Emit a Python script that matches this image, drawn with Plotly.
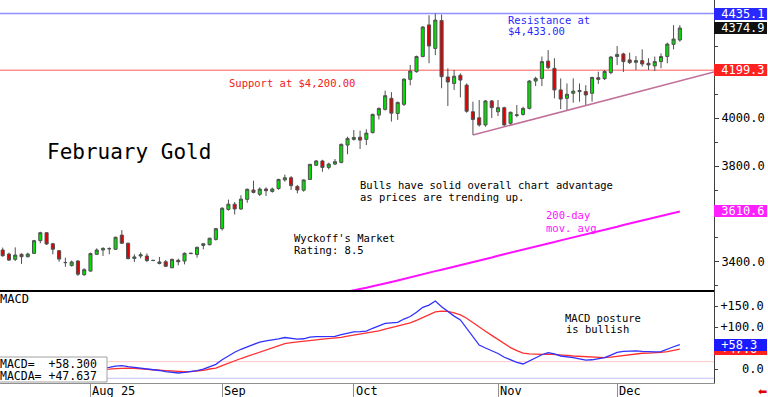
import plotly.graph_objects as go

# ---------------- data ----------------
JUL = [14, 15, 16, 17, 18, 21, 22, 23, 24, 25, 28, 29, 30, 31]
AUG = [1, 4, 5, 6, 7, 8, 11, 12, 13, 14, 15, 18, 19, 20, 21, 22, 25, 26, 27, 28, 29]
SEP = [2, 3, 4, 5, 8, 9, 10, 11, 12, 15, 16, 17, 18, 19, 22, 23, 24, 25, 26, 29, 30]
OCT = [1, 2, 3, 6, 7, 8, 9, 10, 13, 14, 15, 16, 17, 20, 21, 22, 23, 24, 27, 28, 29, 30, 31]
NOV = [3, 4, 5, 6, 7, 10, 11, 12, 13, 14, 17, 18, 19, 20, 21, 24, 25, 26, 28]
DEC = [1, 2, 3, 4, 5, 8, 9, 10, 11, 12, 15]
MONTH_DAYS = [(7, JUL), (8, AUG), (9, SEP), (10, OCT), (11, NOV), (12, DEC)]
dates = [f"2025-{m:02d}-{d:02d}" for m, days in MONTH_DAYS for d in days]

opens = [3450, 3433, 3411, 3432, 3422, 3436, 3489, 3522, 3476, 3447, 3397, 3385, 3404, 3347,
         3362, 3432, 3450, 3456, 3453, 3512, 3478, 3415, 3425, 3425, 3407, 3394, 3401, 3376, 3407, 3404,
         3437, 3431, 3469, 3472, 3494,
         3539, 3619, 3641, 3621, 3661, 3700, 3682, 3704, 3694, 3706, 3742, 3751, 3715, 3699, 3744, 3803,
         3821, 3794, 3808, 3815, 3887,
         3911, 3920, 3911, 3939, 4012, 4036, 4082, 4019, 4057, 4161, 4193, 4256, 4388, 4290, 4406, 4171,
         4144, 4178, 4137, 4026, 4001, 3971, 4071,
         4026, 4043, 3978, 4011, 4015, 4040, 4154, 4165, 4237, 4207, 4117, 4082, 4103, 4115, 4110, 4103,
         4168, 4164, 4189,
         4256, 4267, 4242, 4232, 4239, 4228, 4217, 4235, 4256, 4307, 4325]
highs = [3460, 3439, 3461, 3436, 3439, 3492, 3526, 3525, 3480, 3450, 3418, 3406, 3408, 3374,
         3439, 3457, 3462, 3461, 3506, 3533, 3481, 3432, 3440, 3436, 3409, 3421, 3408, 3414, 3414, 3440,
         3438, 3464, 3479, 3501, 3542,
         3628, 3660, 3650, 3678, 3706, 3739, 3711, 3711, 3710, 3747, 3764, 3758, 3721, 3744, 3808, 3825,
         3826, 3814, 3829, 3894, 3922,
         3950, 3947, 3953, 4018, 4044, 4114, 4108, 4068, 4165, 4221, 4260, 4383, 4428, 4435.1, 4431, 4207,
         4200, 4186, 4144, 4068, 4075, 4075, 4075,
         4075, 4047, 4026, 4054, 4047, 4158, 4172, 4256, 4283, 4249, 4165, 4144, 4165, 4144, 4137, 4172,
         4193, 4200, 4258,
         4300, 4272, 4272, 4258, 4286, 4249, 4256, 4269, 4314, 4387, 4387]
lows = [3422, 3404, 3404, 3392, 3419, 3433, 3478, 3471, 3432, 3401, 3380, 3381, 3342, 3342,
        3360, 3429, 3425, 3432, 3450, 3475, 3411, 3400, 3415, 3400, 3404, 3390, 3379, 3374, 3386, 3390,
        3434, 3418, 3453, 3469, 3489,
        3531, 3614, 3598, 3617, 3647, 3686, 3675, 3675, 3689, 3701, 3735, 3700, 3686, 3693, 3742, 3800,
        3776, 3786, 3804, 3811, 3849,
        3906, 3871, 3887, 3936, 3994, 4031, 3985, 3992, 4050, 4136, 4189, 4253, 4228, 4262, 4124, 4050,
        4117, 4086, 4022, 3929, 3964, 3964, 4000,
        4008, 3964, 3971, 4003, 4010, 4036, 4133, 4133, 4204, 4082, 4037, 4033, 4064, 4068, 4054, 4068,
        4142, 4158, 4183,
        4221, 4192, 4225, 4200, 4214, 4200, 4196, 4207, 4228, 4286, 4318]
closes = [3426, 3408, 3429, 3422, 3433, 3489, 3522, 3475, 3453, 3412, 3398, 3400, 3349, 3368,
          3435, 3450, 3456, 3455, 3503, 3478, 3414, 3421, 3430, 3406, 3406, 3400, 3382, 3411, 3401, 3436,
          3435, 3461, 3476, 3499, 3539,
          3624, 3641, 3621, 3662, 3703, 3690, 3704, 3697, 3704, 3744, 3751, 3718, 3700, 3742, 3807, 3821,
          3794, 3808, 3818, 3890, 3915,
          3919, 3908, 3937, 4015, 4040, 4093, 4020, 4065, 4162, 4196, 4256, 4379, 4300, 4408, 4172, 4150,
          4174, 4158, 4028, 3994, 3971, 4071, 4043,
          4043, 3971, 4024, 4013, 4040, 4154, 4165, 4235, 4210, 4117, 4079, 4099, 4112, 4110, 4096, 4169,
          4161, 4194, 4254,
          4265, 4235, 4231, 4239, 4225, 4221, 4235, 4256, 4308, 4329, 4374.9]

ma200 = [None] * 50 + [
    3250, 3255, 3260, 3266, 3271, 3277, 3283, 3288, 3293, 3299,
    3304, 3310, 3317, 3323, 3330, 3336, 3342, 3349, 3355, 3362,
    3368, 3374, 3381, 3387, 3394, 3400, 3406, 3413, 3419, 3426,
    3432, 3438, 3445, 3451, 3458, 3464, 3470, 3477, 3483, 3490,
    3496, 3502, 3509, 3515, 3522, 3528, 3534, 3541, 3547, 3554,
    3560, 3566, 3573, 3579, 3586, 3592, 3598, 3604, 3610.6]

macd = [5, 3, 2, 0, -1, 2, 6, 7, 5, 1, -3, -5, -9, -9, -3, 0, 1.5,
        4, 7, 8, 5.5, 4, 2.5, 0.5, -1, -3.5, -6, -7.5, -9.5, -8, -6.5, -4, 0, 5, 11,
        22, 32, 40, 47, 53, 58, 64, 67, 69, 72, 75, 73.5, 71, 72, 76, 77, 77, 77, 77.5, 82, 86, 88.5, 89, 90,
        97, 103, 108.5, 110, 111, 119, 125, 135, 147, 152, 162,
        148, 136, 126, 117, 96, 76, 57, 50, 43, 37,
        28, 22, 16, 12, 19, 27, 34, 39, 36, 31,
        29.5, 27, 24, 21, 22, 24, 27, 33, 39.5, 42,
        43, 43, 42, 41, 41, 41.5, 48, 53, 58.3]
macd_avg = [6, 5.5, 4.8, 3.8, 2.8, 2.6, 3.3, 4, 4.2, 3.6, 2.2, 0.8, -1.2, -2.8, -2.8, -2.2, -2,
            -0.5, 1, 2.4, 2.2, 1.5, 0.8, -0.3, -1.2, -3, -4, -5, -6.3, -6.5, -6.2, -5, -3, 0, 2,
            8, 14, 19, 25, 30, 35, 40, 45, 51, 56, 60.5, 63, 65, 66.5, 68, 69.5, 71, 72, 73, 75.5, 78.5, 81, 82.5, 84.5,
            87.5, 91, 95, 99, 102, 105.5, 110, 116, 123, 130, 136,
            138, 137, 133.5, 129, 121, 110, 100, 90, 80, 70,
            60, 51, 44, 38, 36, 35, 35, 35.5, 35, 33.5,
            32.5, 31, 30, 28.5, 27.5, 27, 27, 28.5, 30.5, 33,
            35, 36.5, 37.5, 38, 38.5, 39.5, 41.5, 44, 47.6]

MONTH_LABELS = ["Aug 25", "Sep", "Oct", "Nov", "Dec"]
PRICE_TICKS = [3400, 3800, 4000]
MACD_TICKS = [0, 100, 150]
RESISTANCE = 4435.1
SUPPORT = 4199.3
TREND_DATES = ["2025-10-28", "2025-11-21"]
TREND_PRICES = [3929, 4052]
MACD_REF_HI = 17.5
MACD_REF_LO = -22

# ---------------- geometry / style ----------------
MONO = "DejaVu Sans Mono"
W_PLOT, H_PLOT = 714, 383
MAIN_H = 290
D = (H_PLOT - MAIN_H) / H_PLOT
X_RANGE = [-0.43, 113.45]
Y_RANGE = [3283.3, 4491.7]
M_RANGE = [-33.3, 188.1]

idx = list(range(len(dates)))
month_starts = [i for i in range(1, len(dates)) if dates[i][5:7] != dates[i - 1][5:7]]

t0 = dates.index(TREND_DATES[0])
t1 = dates.index(TREND_DATES[1])
slope = (TREND_PRICES[1] - TREND_PRICES[0]) / (t1 - t0)
trend_x = [t0, X_RANGE[1]]
trend_y = [TREND_PRICES[0], TREND_PRICES[0] + slope * (X_RANGE[1] - t0)]


def fx(px):
    return px / W_PLOT


def fy(py):
    return 1 - py / H_PLOT


fig = go.Figure()
fig.add_trace(go.Scatter(x=idx, y=ma200, mode="lines", line=dict(color="#ff10ff", width=2),
                         xaxis="x", yaxis="y", hoverinfo="skip"))
fig.add_trace(go.Scatter(x=trend_x, y=trend_y, mode="lines", line=dict(color="#c0709a", width=1.5),
                         xaxis="x", yaxis="y", hoverinfo="skip"))
fig.add_trace(go.Candlestick(
    x=idx, open=opens, high=highs, low=lows, close=closes, text=dates,
    increasing=dict(fillcolor="#00e000", line=dict(color="#505050", width=1)),
    decreasing=dict(fillcolor="#e00000", line=dict(color="#505050", width=1)),
    whiskerwidth=0, xaxis="x", yaxis="y"))
fig.add_trace(go.Scatter(x=idx, y=macd_avg, mode="lines", line=dict(color="#ff3030", width=1.3),
                         xaxis="x2", yaxis="y2"))
fig.add_trace(go.Scatter(x=idx, y=macd, mode="lines", line=dict(color="#3030ff", width=1.3),
                         xaxis="x2", yaxis="y2"))

shapes = [
    dict(type="line", xref="x domain", yref="y", x0=0, x1=1, y0=RESISTANCE, y1=RESISTANCE,
         line=dict(color="#9090ff", width=1.5), layer="below"),
    dict(type="line", xref="x domain", yref="y", x0=0, x1=1, y0=SUPPORT, y1=SUPPORT,
         line=dict(color="#ff9090", width=1.5), layer="below"),
    dict(type="line", xref="x2 domain", yref="y2", x0=0, x1=1, y0=MACD_REF_HI, y1=MACD_REF_HI,
         line=dict(color="#ffc8c8", width=1), layer="below"),
    dict(type="line", xref="x2 domain", yref="y2", x0=0, x1=1, y0=MACD_REF_LO, y1=MACD_REF_LO,
         line=dict(color="#c0c0ff", width=1), layer="below"),
    # MACD value box
    dict(type="rect", xref="paper", yref="paper", x0=fx(-1), x1=fx(107), y0=fy(382), y1=fy(357),
         fillcolor="white", line=dict(color="#a0a0a0", width=1), layer="above"),
]


def note(text, x, y, color="black", size=10.5):
    return dict(text=text, xref="paper", yref="paper", x=fx(x - 2), y=fy(y), xanchor="left",
                yanchor="middle", showarrow=False, font=dict(family=MONO, size=size, color=color))


def tag(text, value, yref, bg, width=53):
    return dict(text="\u00a0" + text, xref="paper", yref=yref, x=1, y=value, xanchor="left",
                yanchor="middle", xshift=0, showarrow=False, bgcolor=bg, width=width, height=12,
                align="left", borderpad=0, borderwidth=0,
                font=dict(family=MONO, size=12, color="white"))


annotations = [
    note("February Gold", 47, 152, size=21),
    note("Support at $4,200.00", 229, 83, color="#f02020"),
    note("Resistance at", 508, 20, color="#2a2aff"),
    note("$4,433.00", 508, 31, color="#2a2aff"),
    note("Bulls have solid overall chart advantage", 360, 185),
    note("as prices are trending up.", 360, 197),
    note("Wyckoff's Market", 294, 238),
    note("Rating: 8.5", 294, 250),
    note("200-day", 546, 215, color="#ff10ff"),
    note("mov. avg.", 546, 228, color="#ff10ff"),
    note("MACD posture", 565, 318),
    note("is bullish", 566, 329),
    note("MACD", 0, 299, size=12),
    note("MACD=\u00a0\u00a0+58.300", 0, 363.5, size=11.5),
    note("MACDA=\u00a0+47.637", 0, 376, size=11.5),
    tag(f"{RESISTANCE:.1f}", RESISTANCE, "y", "#2828ff"),
    tag(f"{closes[-1]:.1f}", closes[-1], "y", "#101010"),
    tag(f"{SUPPORT:.1f}", SUPPORT, "y", "#ff2020"),
    tag(f"{ma200[-1]:.1f}", ma200[-1], "y", "#ff20ff"),
    tag(f"+{macd_avg[-1]:.1f}", macd_avg[-1], "y2", "#ff2020"),
    tag(f"+{macd[-1]:.1f}", macd[-1], "y2", "#1a1aff"),
    dict(text="\u2b05", xref="paper", yref="paper", x=fx(762), y=fy(391), xanchor="center",
         yanchor="middle", showarrow=False, font=dict(family="DejaVu Sans", size=11, color="#e00000")),
]
for lab, i in zip(MONTH_LABELS, month_starts):
    annotations.append(dict(text=lab, xref="x2", yref="paper", x=i, y=fy(390.5), xanchor="left",
                            yanchor="middle", showarrow=False,
                            font=dict(family=MONO, size=12, color="black")))

axis_font = dict(family=MONO, size=12, color="black")
fig.update_layout(
    width=768, height=397,
    margin=dict(l=0, r=768 - W_PLOT, t=0, b=397 - H_PLOT),
    paper_bgcolor="white", plot_bgcolor="white",
    showlegend=False,
    xaxis=dict(domain=[0, 1], range=X_RANGE, anchor="y", showticklabels=False, showgrid=False,
               zeroline=False, showline=True, linecolor="black", linewidth=1.5, ticks="",
               rangeslider=dict(visible=False)),
    xaxis2=dict(domain=[0, 1], range=X_RANGE, anchor="y2", matches="x", showticklabels=False,
                tickmode="array", tickvals=month_starts, ticks="outside", ticklen=14,
                tickcolor="#909090", tickwidth=1, showgrid=False, zeroline=False,
                showline=True, linecolor="#909090", linewidth=1),
    yaxis=dict(domain=[D, 1], range=Y_RANGE, anchor="x", side="right", showgrid=False,
               zeroline=False, showline=True, linecolor="#404040", linewidth=1,
               tickmode="array", tickvals=PRICE_TICKS, ticktext=[f"{v:.1f}" for v in PRICE_TICKS],
               ticks="outside", ticklen=4, tickcolor="#404040", tickfont=axis_font,
               minor=dict(ticks="outside", ticklen=3, dtick=100, tick0=0, tickcolor="#404040")),
    yaxis2=dict(domain=[0, D], range=M_RANGE, anchor="x2", side="right", showgrid=False,
                zeroline=False, showline=True, linecolor="#404040", linewidth=1,
                tickmode="array", tickvals=MACD_TICKS,
                ticktext=["\u00a0\u00a0\u00a00.0", "+100.0", "+150.0"],
                ticks="outside", ticklen=3, tickcolor="#404040", tickfont=axis_font,
                minor=dict(ticks="outside", ticklen=3, dtick=50, tick0=0, tickcolor="#404040")),
    shapes=shapes,
    annotations=annotations,
)

fig.write_html("out.html", config={"displayModeBar": False},
               post_script="document.body.style.margin='0';document.body.style.overflow='hidden';")
